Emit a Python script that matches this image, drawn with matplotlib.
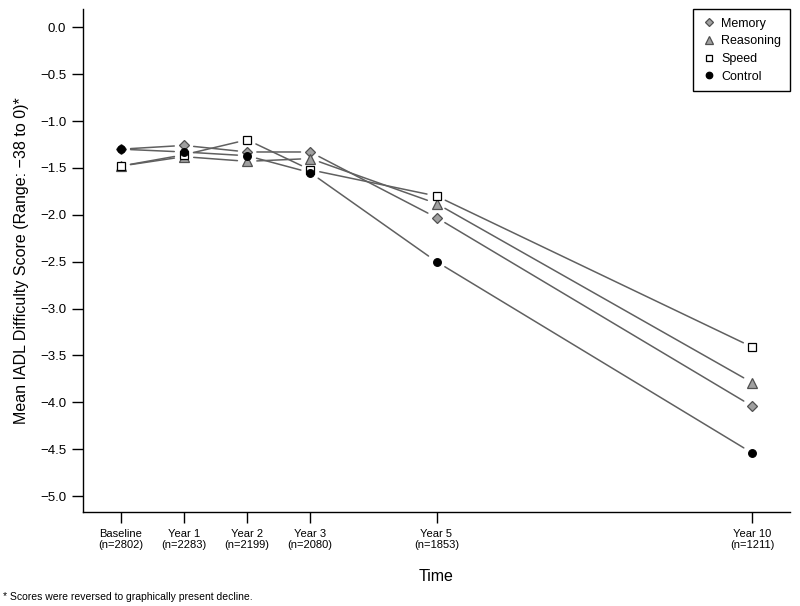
import matplotlib
matplotlib.use("Agg")
import matplotlib.pyplot as plt

plt.rcParams["font.family"] = ["Liberation Sans", "DejaVu Sans"]

# Data
years = [0, 1, 2, 3, 5, 10]
tick_labels = ["Baseline\n(n=2802)", "Year 1\n(n=2283)", "Year 2\n(n=2199)",
               "Year 3\n(n=2080)", "Year 5\n(n=1853)", "Year 10\n(n=1211)"]
memory = [-1.30, -1.26, -1.33, -1.33, -2.03, -4.04]
reasoning = [-1.48, -1.38, -1.43, -1.40, -1.88, -3.79]
speed = [-1.48, -1.36, -1.20, -1.52, -1.80, -3.41]
control = [-1.30, -1.33, -1.37, -1.55, -2.50, -4.54]

series = [
    ("Memory", memory, dict(marker="D", ms=5, mfc="#a0a0a0", mec="#505050")),
    ("Reasoning", reasoning, dict(marker="^", ms=6.5, mfc="#a0a0a0", mec="#505050")),
    ("Speed", speed, dict(marker="s", ms=5.5, mfc="white", mec="black")),
    ("Control", control, dict(marker="o", ms=5.5, mfc="black", mec="black")),
]

fig = plt.figure(figsize=(8, 6.06), dpi=100)
ax = fig.add_axes([83 / 800, 1 - 512 / 606, (790 - 83) / 800, (512 - 9) / 606])

for name, vals, style in series:
    # R style type="b": segments stop short of the points
    for i in range(len(years) - 1):
        ax.annotate("", xy=(years[i + 1], vals[i + 1]), xytext=(years[i], vals[i]),
                    arrowprops=dict(arrowstyle="-", color="#606060", lw=1.1,
                                    shrinkA=7, shrinkB=7))
    ax.plot(years, vals, linestyle="none", label=name, zorder=3, mew=0.9, **style)

ax.set_xlim(-0.6, 10.6)
ax.set_ylim(-5.17, 0.195)
ax.set_yticks([0, -0.5, -1, -1.5, -2, -2.5, -3, -3.5, -4, -4.5, -5])
ax.set_yticklabels(["0.0", "\u22120.5", "\u22121.0", "\u22121.5", "\u22122.0", "\u22122.5",
                    "\u22123.0", "\u22123.5", "\u22124.0", "\u22124.5", "\u22125.0"])
ax.set_xticks(years)
ax.set_xticklabels(tick_labels, fontsize=8, linespacing=1.15)
ax.tick_params(axis="y", labelsize=9.5, length=8, width=1, pad=4)
ax.tick_params(axis="x", length=8, width=1, pad=4)

for s in ["top", "right"]:
    ax.spines[s].set_visible(False)
for s in ["left", "bottom"]:
    ax.spines[s].set_linewidth(1)

ax.set_ylabel("Mean IADL Difficulty Score (Range: \u221238 to 0)*", fontsize=11.5, labelpad=8)
ax.set_xlabel("Time", fontsize=11.5, labelpad=14)

leg = ax.legend(loc="upper right", borderaxespad=0, fontsize=9, handletextpad=0.4,
                handlelength=1.2, labelspacing=0.45, fancybox=False, framealpha=1,
                edgecolor="black", borderpad=0.7, markerscale=0.85)
leg.get_frame().set_linewidth(1)

fig.text(0.004, 1 - 597 / 606, "* Scores were reversed to graphically present decline.",
         fontsize=7.5, va="center", ha="left")

fig.savefig("out.png", dpi=100)
